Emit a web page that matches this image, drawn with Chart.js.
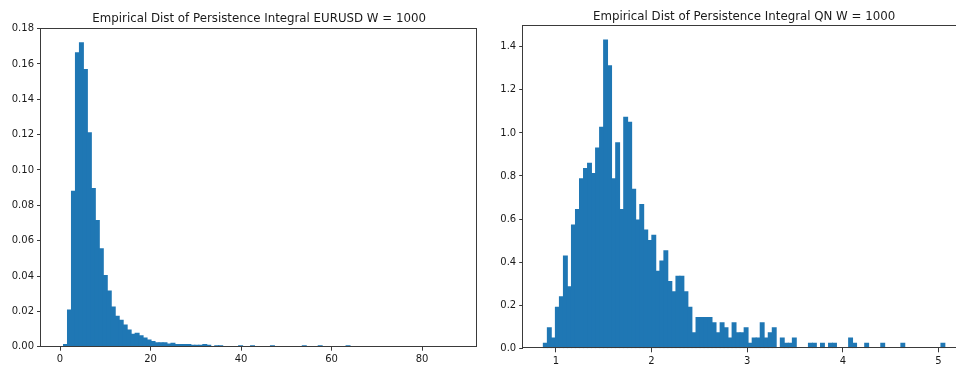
<!DOCTYPE html>
<html>
<head>
<meta charset="utf-8">
<script src="https://cdn.jsdelivr.net/npm/chart.js@4.4.1/dist/chart.umd.min.js"></script>
<style>
  html, body { margin: 0; padding: 0; background: #fff; overflow: hidden; width: 956px; height: 367px; }
  #left  { position: absolute; left: 0;     top: 0; width: 480px; height: 367px; }
  #right { position: absolute; left: 480px; top: 0; width: 490px; height: 367px; }
</style>
</head>
<body>
<div id="left"><canvas id="chartEurusd"></canvas></div>
<div id="right"><canvas id="chartQn"></canvas></div>
<script>
// ---- EURUSD: histogram bins (centres) and densities, 100 bins, non-empty bins listed ----
const eurusdBins = [
  1.213, 2.092, 2.972, 3.851, 4.730, 5.610, 6.489, 7.368, 8.247, 9.127,
  10.006, 10.885, 11.765, 12.644, 13.523, 14.403, 15.282, 16.161, 17.040, 17.920,
  18.799, 19.678, 20.558, 21.437, 22.316, 23.196, 24.075, 24.954, 25.833, 26.713,
  27.592, 28.471, 29.351, 30.230, 31.109, 31.989, 32.868, 34.626, 35.506, 39.902,
  42.540, 46.937, 53.971, 57.488, 63.643
];
const eurusdDensity = [
  0.0013, 0.0207, 0.0880, 0.1663, 0.1720, 0.1569, 0.1211, 0.0895, 0.0714, 0.0554,
  0.0403, 0.0315, 0.0224, 0.0173, 0.0149, 0.0123, 0.0094, 0.0070, 0.0076, 0.0062,
  0.0049, 0.0038, 0.0029, 0.0023, 0.0023, 0.0023, 0.0015, 0.0019, 0.0013, 0.0013,
  0.0013, 0.0013, 0.0008, 0.0008, 0.0008, 0.0013, 0.0008, 0.0006, 0.0006, 0.0006,
  0.0006, 0.0006, 0.0006, 0.0006, 0.0006
];
const eurusdXTicks = [0, 20, 40, 60, 80];
const eurusdYTicks = [0, 0.02, 0.04, 0.06, 0.08, 0.10, 0.12, 0.14, 0.16, 0.18];

// ---- QN: histogram bins (centres) and densities, 100 bins, non-empty bins listed ----
const qnBins = [
  0.890, 0.932, 0.974, 1.016, 1.058, 1.100, 1.142, 1.184, 1.226, 1.268,
  1.310, 1.352, 1.394, 1.436, 1.478, 1.520, 1.562, 1.604, 1.646, 1.688,
  1.730, 1.772, 1.814, 1.856, 1.898, 1.940, 1.982, 2.024, 2.066, 2.108,
  2.150, 2.192, 2.234, 2.276, 2.318, 2.360, 2.402, 2.444, 2.486, 2.528,
  2.570, 2.612, 2.654, 2.696, 2.738, 2.779, 2.821, 2.863, 2.905, 2.947,
  2.989, 3.031, 3.073, 3.115, 3.157, 3.199, 3.241, 3.283, 3.367, 3.409,
  3.451, 3.493, 3.661, 3.703, 3.787, 3.871, 3.913, 4.081, 4.123, 4.249,
  4.417, 4.627, 5.046
];
const qnDensity = [
  0.024, 0.095, 0.048, 0.191, 0.239, 0.429, 0.286, 0.572, 0.644, 0.787,
  0.835, 0.859, 0.811, 0.930, 1.026, 1.431, 1.312, 0.787, 0.954, 0.644,
  1.073, 1.049, 0.739, 0.596, 0.668, 0.549, 0.501, 0.525, 0.358, 0.405,
  0.453, 0.310, 0.262, 0.334, 0.334, 0.262, 0.191, 0.072, 0.143, 0.143,
  0.143, 0.143, 0.119, 0.072, 0.119, 0.095, 0.048, 0.119, 0.072, 0.072,
  0.095, 0.024, 0.048, 0.048, 0.119, 0.048, 0.072, 0.095, 0.048, 0.024,
  0.024, 0.048, 0.024, 0.024, 0.024, 0.024, 0.024, 0.048, 0.024, 0.024,
  0.024, 0.024, 0.024
];
const qnXTicks = [1, 2, 3, 4, 5];
const qnYTicks = [0, 0.2, 0.4, 0.6, 0.8, 1.0, 1.2, 1.4];

const BAR_COLOR = '#1f77b4';
const TEXT_COLOR = '#1a1a1a';
const FONT = '"DejaVu Sans", sans-serif';

// Axes frame (all four spines) and the title above the plot area
const framePlugin = {
  id: 'frame',
  afterDraw(chart, args, opts) {
    const { ctx, chartArea: a } = chart;
    ctx.save();
    ctx.strokeStyle = '#3a3a3a';
    ctx.lineWidth = 1;
    const l = Math.round(a.left) - 0.5, r = Math.round(a.right) - 0.5;
    const t = Math.round(a.top) + 0.5, b = Math.round(a.bottom) - 0.5;
    ctx.strokeRect(l, t, r - l, b - t);
    ctx.fillStyle = TEXT_COLOR;
    ctx.font = '11.8px ' + FONT;
    ctx.textAlign = 'center';
    ctx.textBaseline = 'alphabetic';
    ctx.fillText(opts.text, (a.left + a.right) / 2, opts.baseline);
    ctx.restore();
  }
};

function histogram(canvasId, bins, density, xTicks, yTicks, cfg) {
  return new Chart(document.getElementById(canvasId), {
    type: 'bar',
    data: {
      datasets: [{
        data: bins.map((x, i) => ({ x: x, y: density[i] })),
        backgroundColor: BAR_COLOR,
        borderWidth: 0,
        barPercentage: 1,
        categoryPercentage: 1,
        inflateAmount: 0.5
      }]
    },
    options: {
      responsive: true,
      maintainAspectRatio: false,
      animation: false,
      devicePixelRatio: 1,
      layout: { padding: cfg.padding },
      plugins: {
        legend: { display: false },
        title: { display: false },
        tooltip: { enabled: false },
        frame: { text: cfg.title, baseline: cfg.titleBaseline }
      },
      scales: {
        x: {
          type: 'linear',
          min: cfg.xMin,
          max: cfg.xMax,
          offset: false,
          grid: { display: true, offset: false, drawOnChartArea: false, drawTicks: true, tickLength: 4, color: '#3a3a3a' },
          border: { display: false },
          ticks: {
            color: TEXT_COLOR, font: { family: FONT, size: 10 }, padding: 3,
            maxRotation: 0, autoSkip: false,
            callback: v => String(v)
          },
          afterBuildTicks: s => { s.ticks = xTicks.map(v => ({ value: v })); },
          afterFit: s => { s.height = cfg.xAxisHeight; }
        },
        y: {
          type: 'linear',
          min: 0,
          max: cfg.yMax,
          grid: { display: true, offset: false, drawOnChartArea: false, drawTicks: true, tickLength: 4, color: '#3a3a3a' },
          border: { display: false },
          ticks: {
            color: TEXT_COLOR, font: { family: FONT, size: 10 }, padding: 3,
            autoSkip: false,
            callback: v => v.toFixed(cfg.yDecimals)
          },
          afterBuildTicks: s => { s.ticks = yTicks.map(v => ({ value: v })); },
          afterFit: s => { s.width = cfg.yAxisWidth; }
        }
      }
    },
    plugins: [framePlugin]
  });
}

histogram('chartEurusd', eurusdBins, eurusdDensity, eurusdXTicks, eurusdYTicks, {
  title: 'Empirical Dist of Persistence Integral EURUSD W = 1000',
  titleBaseline: 22,
  padding: { left: 0, right: 2.7, top: 27.7, bottom: 0 },
  xMin: -4.2, xMax: 92.2, yMax: 0.1805, yDecimals: 2,
  xAxisHeight: 20.3, yAxisWidth: 41
});

histogram('chartQn', qnBins, qnDensity, qnXTicks, qnYTicks, {
  title: 'Empirical Dist of Persistence Integral QN W = 1000',
  titleBaseline: 19.5,
  padding: { left: 0, right: 5, top: 25, bottom: 0 },
  xMin: 0.659, xMax: 5.277, yMax: 1.501, yDecimals: 1,
  xAxisHeight: 18.7, yAxisWidth: 43.2
});
</script>
</body>
</html>
